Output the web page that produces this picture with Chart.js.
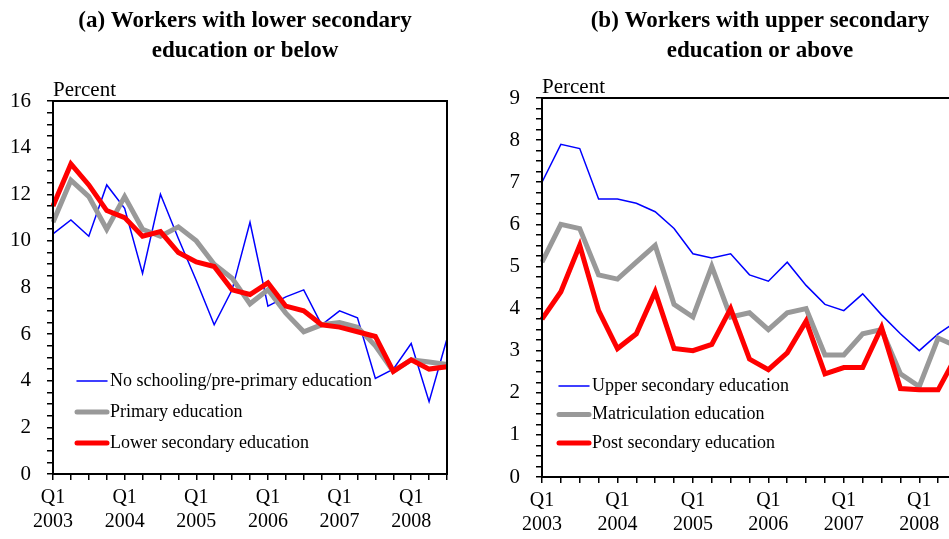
<!DOCTYPE html>
<html>
<head>
<meta charset="utf-8">
<script src="https://cdn.jsdelivr.net/npm/chart.js@4.4.0/dist/chart.umd.min.js"></script>
<style>
  html, body { margin: 0; padding: 0; background: #fff; overflow: hidden; width: 949px; height: 539px; }
  .panel { position: absolute; top: 0; }
  #panelA { left: 0; }
  #panelB { left: 490px; }
</style>
</head>
<body>
<div class="panel" id="panelA"><canvas id="chartA" width="490" height="539"></canvas></div>
<div class="panel" id="panelB"><canvas id="chartB" width="540" height="539"></canvas></div>
<script>
// quarterly observations, Q1 2003 - Q3 2008
const quarters = [
  'Q1 2003', 'Q2 2003', 'Q3 2003', 'Q4 2003',
  'Q1 2004', 'Q2 2004', 'Q3 2004', 'Q4 2004',
  'Q1 2005', 'Q2 2005', 'Q3 2005', 'Q4 2005',
  'Q1 2006', 'Q2 2006', 'Q3 2006', 'Q4 2006',
  'Q1 2007', 'Q2 2007', 'Q3 2007', 'Q4 2007',
  'Q1 2008', 'Q2 2008', 'Q3 2008'
];

// panel (a)
const noSchooling = [10.3, 10.9, 10.2, 12.4, 11.4, 8.6, 12.0, 10.1, 8.3, 6.4, 7.9, 10.8, 7.2, 7.6, 7.9, 6.4, 7.0, 6.7, 4.1, 4.5, 5.6, 3.1, 5.8];
const primaryEdu = [10.8, 12.6, 11.9, 10.5, 11.9, 10.5, 10.2, 10.6, 10.0, 9.0, 8.4, 7.3, 7.9, 6.9, 6.1, 6.4, 6.5, 6.3, 5.5, 4.4, 4.9, 4.8, 4.7];
const lowerSecondary = [11.5, 13.3, 12.4, 11.3, 11.0, 10.2, 10.4, 9.5, 9.1, 8.9, 7.9, 7.7, 8.2, 7.2, 7.0, 6.4, 6.3, 6.1, 5.9, 4.4, 4.9, 4.5, 4.6];

// panel (b)
const upperSecondary = [7.0, 7.9, 7.8, 6.6, 6.6, 6.5, 6.3, 5.9, 5.3, 5.2, 5.3, 4.8, 4.65, 5.1, 4.55, 4.1, 3.95, 4.35, 3.85, 3.4, 3.0, 3.4, 3.7];
const matriculation = [5.1, 6.0, 5.9, 4.8, 4.7, 5.1, 5.5, 4.1, 3.8, 5.0, 3.8, 3.9, 3.5, 3.9, 4.0, 2.9, 2.9, 3.4, 3.5, 2.45, 2.15, 3.3, 3.1];
const postSecondary = [3.75, 4.4, 5.5, 3.95, 3.05, 3.4, 4.4, 3.05, 3.0, 3.15, 4.0, 2.8, 2.55, 2.95, 3.7, 2.45, 2.6, 2.6, 3.55, 2.1, 2.07, 2.07, 2.9];

const serif = '"Liberation Serif", "Times New Roman", serif';
Chart.defaults.font.family = serif;
Chart.defaults.color = '#000';

// frame, panel title, unit label and in-plot legend
const panelText = {
  id: 'panelText',
  afterDraw(chart, args, opts) {
    const ctx = chart.ctx;
    const a = chart.chartArea;
    ctx.save();
    ctx.strokeStyle = '#000';
    ctx.lineWidth = 2;
    ctx.strokeRect(a.left, a.top, a.right - a.left, a.bottom - a.top);

    ctx.fillStyle = '#000';
    ctx.textAlign = 'center';
    ctx.textBaseline = 'middle';
    ctx.font = 'bold 23px ' + serif;
    opts.title.forEach((line, i) => ctx.fillText(line, chart.width / 2, 21 + i * 30));

    ctx.textAlign = 'left';
    ctx.font = '21px ' + serif;
    ctx.fillText(opts.unit, a.left, a.top - 11);

    ctx.font = '18px ' + serif;
    chart.data.datasets.forEach((ds, i) => {
      const y = opts.legendY + i * opts.legendGap;
      const x = a.left + opts.legendX;
      ctx.strokeStyle = ds.borderColor;
      ctx.lineWidth = ds.borderWidth;
      ctx.lineCap = 'round';
      ctx.beginPath();
      ctx.moveTo(x, y);
      ctx.lineTo(x + 30, y);
      ctx.stroke();
      ctx.fillText(ds.label, x + 33, y);
    });
    ctx.restore();
  }
};

function makeScales(maxY, step, labelEvery, yWidth, xHeight) {
  return {
    x: {
      type: 'category',
      offset: false,
      afterFit: s => { s.height = xHeight; },
      grid: { drawOnChartArea: false, drawTicks: true, tickLength: 6, color: '#000', lineWidth: 1.5 },
      border: { display: true, color: '#000', width: 2 },
      ticks: {
        autoSkip: false,
        maxRotation: 0,
        padding: 6,
        font: { size: 20 },
        callback: function (v, i) {
          const q = quarters[i].split(' ');
          return q[0] === 'Q1' ? [q[0], q[1]] : '';
        }
      }
    },
    y: {
      min: 0,
      max: maxY,
      afterFit: s => { s.width = yWidth; },
      grid: { drawOnChartArea: false, drawTicks: true, tickLength: 6, color: '#000', lineWidth: 1.5 },
      border: { display: true, color: '#000', width: 2 },
      ticks: {
        stepSize: step,
        autoSkip: false,
        padding: 16,
        font: { size: 21 },
        callback: v => (Math.abs(v / labelEvery - Math.round(v / labelEvery)) < 1e-6 ? v : '')
      }
    }
  };
}

function series(label, data, color, width, order) {
  return { label: label, data: data, borderColor: color, borderWidth: width, pointRadius: 0, tension: 0, fill: false, order: order, borderJoinStyle: 'miter' };
}

new Chart(document.getElementById('chartA'), {
  type: 'line',
  data: {
    labels: quarters,
    datasets: [
      series('No schooling/pre-primary education', noSchooling, '#0000ff', 1.5, 2),
      series('Primary education', primaryEdu, '#999999', 5, 1),
      series('Lower secondary education', lowerSecondary, '#ff0000', 5, 0)
    ]
  },
  options: {
    responsive: false,
    animation: false,
    layout: { padding: { top: 101, right: 43, bottom: 0, left: 0 } },
    scales: makeScales(16, 0.5, 2, 53, 65),
    plugins: {
      legend: { display: false },
      tooltip: { enabled: false },
      panelText: {
        title: ['(a) Workers with lower secondary', 'education or below'],
        unit: 'Percent',
        legendX: 24, legendY: 381, legendGap: 31
      }
    }
  },
  plugins: [panelText]
});

new Chart(document.getElementById('chartB'), {
  type: 'line',
  data: {
    labels: quarters,
    datasets: [
      series('Upper secondary education', upperSecondary, '#0000ff', 1.5, 2),
      series('Matriculation education', matriculation, '#999999', 5, 1),
      series('Post secondary education', postSecondary, '#ff0000', 5, 0)
    ]
  },
  options: {
    responsive: false,
    animation: false,
    layout: { padding: { top: 98, right: 73, bottom: 0, left: 0 } },
    scales: makeScales(9, 0.25, 1, 52, 62),
    plugins: {
      legend: { display: false },
      tooltip: { enabled: false },
      panelText: {
        title: ['(b) Workers with upper secondary', 'education or above'],
        unit: 'Percent',
        legendX: 17, legendY: 386, legendGap: 28.5
      }
    }
  },
  plugins: [panelText]
});
</script>
</body>
</html>
